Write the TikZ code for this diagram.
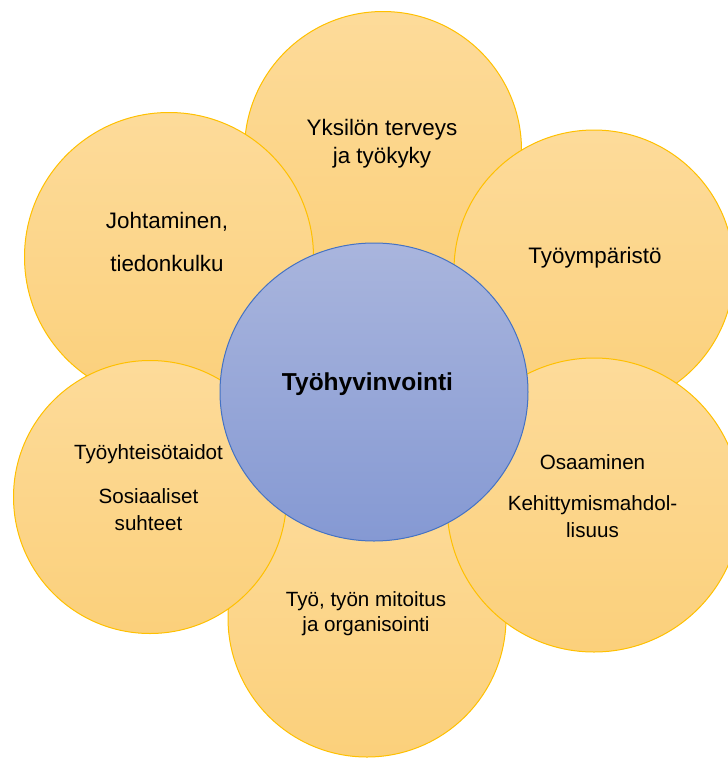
\documentclass[tikz,border=0pt]{standalone}
\usepackage{fontspec}
\setmainfont{Liberation Sans}
\usepackage{xcolor}
\usetikzlibrary{shapes.geometric}
\definecolor{petaltop}{HTML}{FDDB9A}
\definecolor{petalbot}{HTML}{FBD07B}
\definecolor{petaledge}{HTML}{FFC000}
\definecolor{hubtop}{HTML}{A9B5DD}
\definecolor{hubbot}{HTML}{8599D3}
\definecolor{hubedge}{HTML}{4472C4}

\begin{document}
\begin{tikzpicture}[
  x=1pt, y=-1pt,
  every node/.style={text=black},
  petal/.style={
    circle,
    draw=petaledge,
    line width=1pt,
    top color=petaltop,
    bottom color=petalbot,
    inner sep=0pt,
  },
  bigtext/.style={
    font=\fontsize{22.4}{28}\selectfont,
    align=center,
  },
  smalltext/.style={
    font=\fontsize{20.6}{27}\selectfont,
    align=center,
  },
  hub/.style={
    ellipse,
    draw=hubedge,
    line width=1pt,
    top color=hubtop,
    bottom color=hubbot,
    minimum width=308pt,
    minimum height=298pt,
    inner sep=0pt,
  },
]
  \clip (0,0) rectangle (728,758);

  % petals, back to front
  \node[petal, minimum size=277pt] (yksilo) at (383,150) {};
  \node[petal, minimum size=278pt] (tyo) at (367,618) {};
  \node[petal, minimum size=289pt] (johto) at (169,257) {};
  \node[petal, minimum size=280pt] (ymparisto) at (594,270) {};
  \node[petal, minimum size=273pt] (yhteiso) at (150,497) {};
  \node[petal, minimum size=294pt] (osaaminen) at (594,505) {};

  % centre
  \node[hub] (hub) at (374,392) {};

  % texts
  \node[bigtext] (yksilotxt) at (382,143.5) {Yksilön terveys\\ja työkyky};
  \node[bigtext] (johtotxt) at (167,241.7) {Johtaminen,\\[15.4pt]tiedonkulku};
  \node[bigtext] (ymparistotxt) at (595,257.6) {Työympäristö};
  \node[smalltext] (yhteisotxt) at (148.5,487.8) {Työyhteisötaidot\\[17pt]Sosiaaliset\\suhteet};
  \node[smalltext] (osaamistxt) at (592.5,496.2) {Osaaminen\\[14pt]Kehittymismahdol-\\lisuus};
  \node[smalltext, font=\fontsize{20.6}{24.3}\selectfont] (tyotxt) at (366,613.8) {Työ, työn mitoitus\\ja organisointi};
  \node[font=\fontsize{24.5}{29}\selectfont\bfseries] (hubtxt) at (367.5,384.2) {Työhyvinvointi};
\end{tikzpicture}
\end{document}
